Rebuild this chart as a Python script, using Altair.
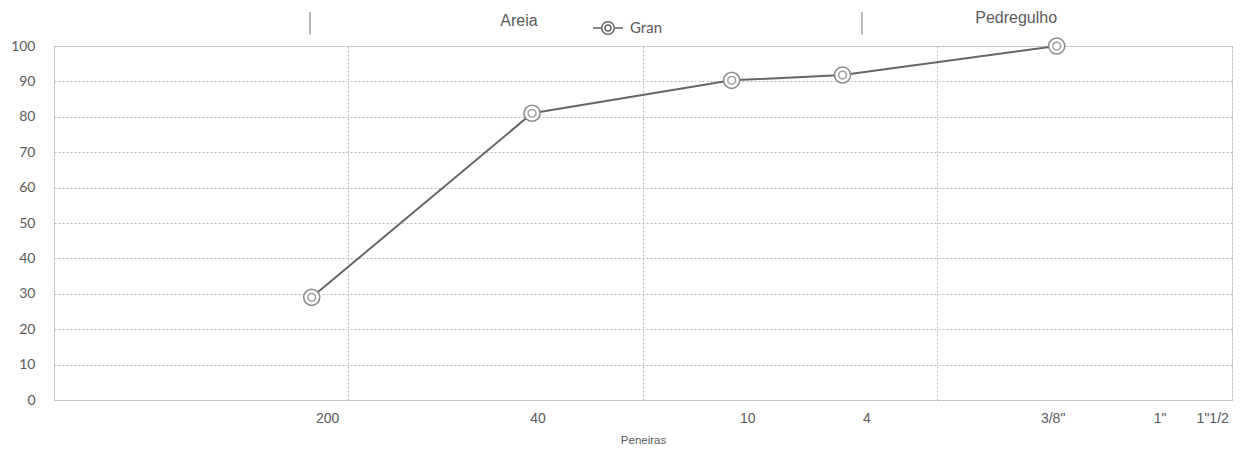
import altair as alt
import pandas as pd

# --- data ---
series_name = "Gran"
sizes_mm = [0.075, 0.42, 2.0, 4.76, 25.4]          # sieve openings (log x)
passing = [29.0, 81.0, 90.3, 91.8, 100.0]          # % passing

tick_labels = ["200", "40", "10", "4", "3/8\"", "1\"", "1\"1/2"]
tick_label_pos_mm = [0.085, 0.44, 2.27, 5.76, 24.7, 57.0, 86.0]

zone_labels = ["Areia", "Pedregulho"]
zone_label_pos_mm = [0.379, 18.5]
zone_label_y = [107.0, 108.0]

divider_pos_mm = [0.074, 5.54]

y_ticks = list(range(0, 101, 10))
x_grid = [0.01, 0.1, 1, 10, 100]

df = pd.DataFrame({"mm": sizes_mm, "pct": passing, "serie": [series_name] * len(sizes_mm)})
df_ticks = pd.DataFrame({"mm": tick_label_pos_mm, "lab": tick_labels})
df_zone = pd.DataFrame({"mm": zone_label_pos_mm, "lab": zone_labels, "yy": zone_label_y})
df_div = pd.DataFrame({"mm": divider_pos_mm})

GRAY = "#666666"
TXT = "#5a5a5a"

xscale = alt.Scale(type="log", domain=[0.01, 100], nice=False)
yscale = alt.Scale(domain=[0, 100], nice=False)

xax = alt.Axis(values=x_grid, labels=False, ticks=False, domain=False, title="Peneiras",
               titleFont="Liberation Sans", titleFontSize=11.5, titleFontWeight="normal",
               titleColor=TXT, titlePadding=34, grid=True, gridColor="#b8b8b8",
               gridDash=[2, 2], gridWidth=1)
yax = alt.Axis(values=y_ticks, ticks=False, domain=False, title=None, labelFont="Lato",
               labelFontSize=14, labelColor=TXT, labelPadding=19, grid=True,
               gridColor="#b8b8b8", gridDash=[2, 2], gridWidth=1, labelOverlap=False)


def X(field="mm:Q"):
    return alt.X(field, scale=xscale, axis=xax)


def Y(field="pct:Q"):
    return alt.Y(field, scale=yscale, axis=yax)


legend_path = ("M-1,0H-0.42 M0.42,0H1 "
               "M-0.42,0A0.42,0.42 0 1,0 0.42,0A0.42,0.42 0 1,0 -0.42,0 "
               "M-0.2,0A0.2,0.2 0 1,0 0.2,0A0.2,0.2 0 1,0 -0.2,0")

line = alt.Chart(df).mark_line(strokeWidth=2).encode(
    x=X(), y=Y(),
    color=alt.Color("serie:N", scale=alt.Scale(range=[GRAY]),
                    legend=alt.Legend(title=None, orient="none", legendX=538, legendY=-34,
                                      symbolType=legend_path, symbolSize=900,
                                      symbolStrokeWidth=1.5, symbolStrokeColor=GRAY,
                                      symbolFillColor="transparent",
                                      labelFont="Lato", labelFontSize=15, labelColor=TXT,
                                      labelOffset=6)),
)

outer = alt.Chart(df).mark_point(shape="circle", size=260, filled=False, color="#8a8a8a",
                                 strokeWidth=1.5, fill="white", fillOpacity=1).encode(
    x=X(), y=Y())
inner = alt.Chart(df).mark_point(shape="circle", size=60, filled=False, color="#777777",
                                 strokeWidth=1.5).encode(x=X(), y=Y())

tick_text = alt.Chart(df_ticks).mark_text(font="Liberation Sans", fontSize=14, color=TXT,
                                          baseline="middle", align="center").encode(
    x=X(), y=alt.YDatum(-5.5, scale=yscale, axis=yax), text="lab:N")

zone_text = alt.Chart(df_zone).mark_text(font="Liberation Sans", fontSize=16, color=TXT,
                                         baseline="middle", align="center").encode(
    x=X(), y=Y("yy:Q"), text="lab:N")

dividers = alt.Chart(df_div).mark_rule(color="#707070", strokeWidth=1).encode(
    x=X(), y=alt.YDatum(109.6, scale=yscale, axis=yax), y2=alt.datum(103.2))

chart = alt.layer(line, outer, inner, tick_text, zone_text, dividers).properties(
    width=1178, height=354,
    autosize=alt.AutoSizeParams(type="none"),
    padding={"left": 46, "top": 38, "right": 19, "bottom": 48},
).configure_view(stroke=None).configure(background="white")

chart.save("out.html", embed_options={"renderer": "svg", "actions": False})
